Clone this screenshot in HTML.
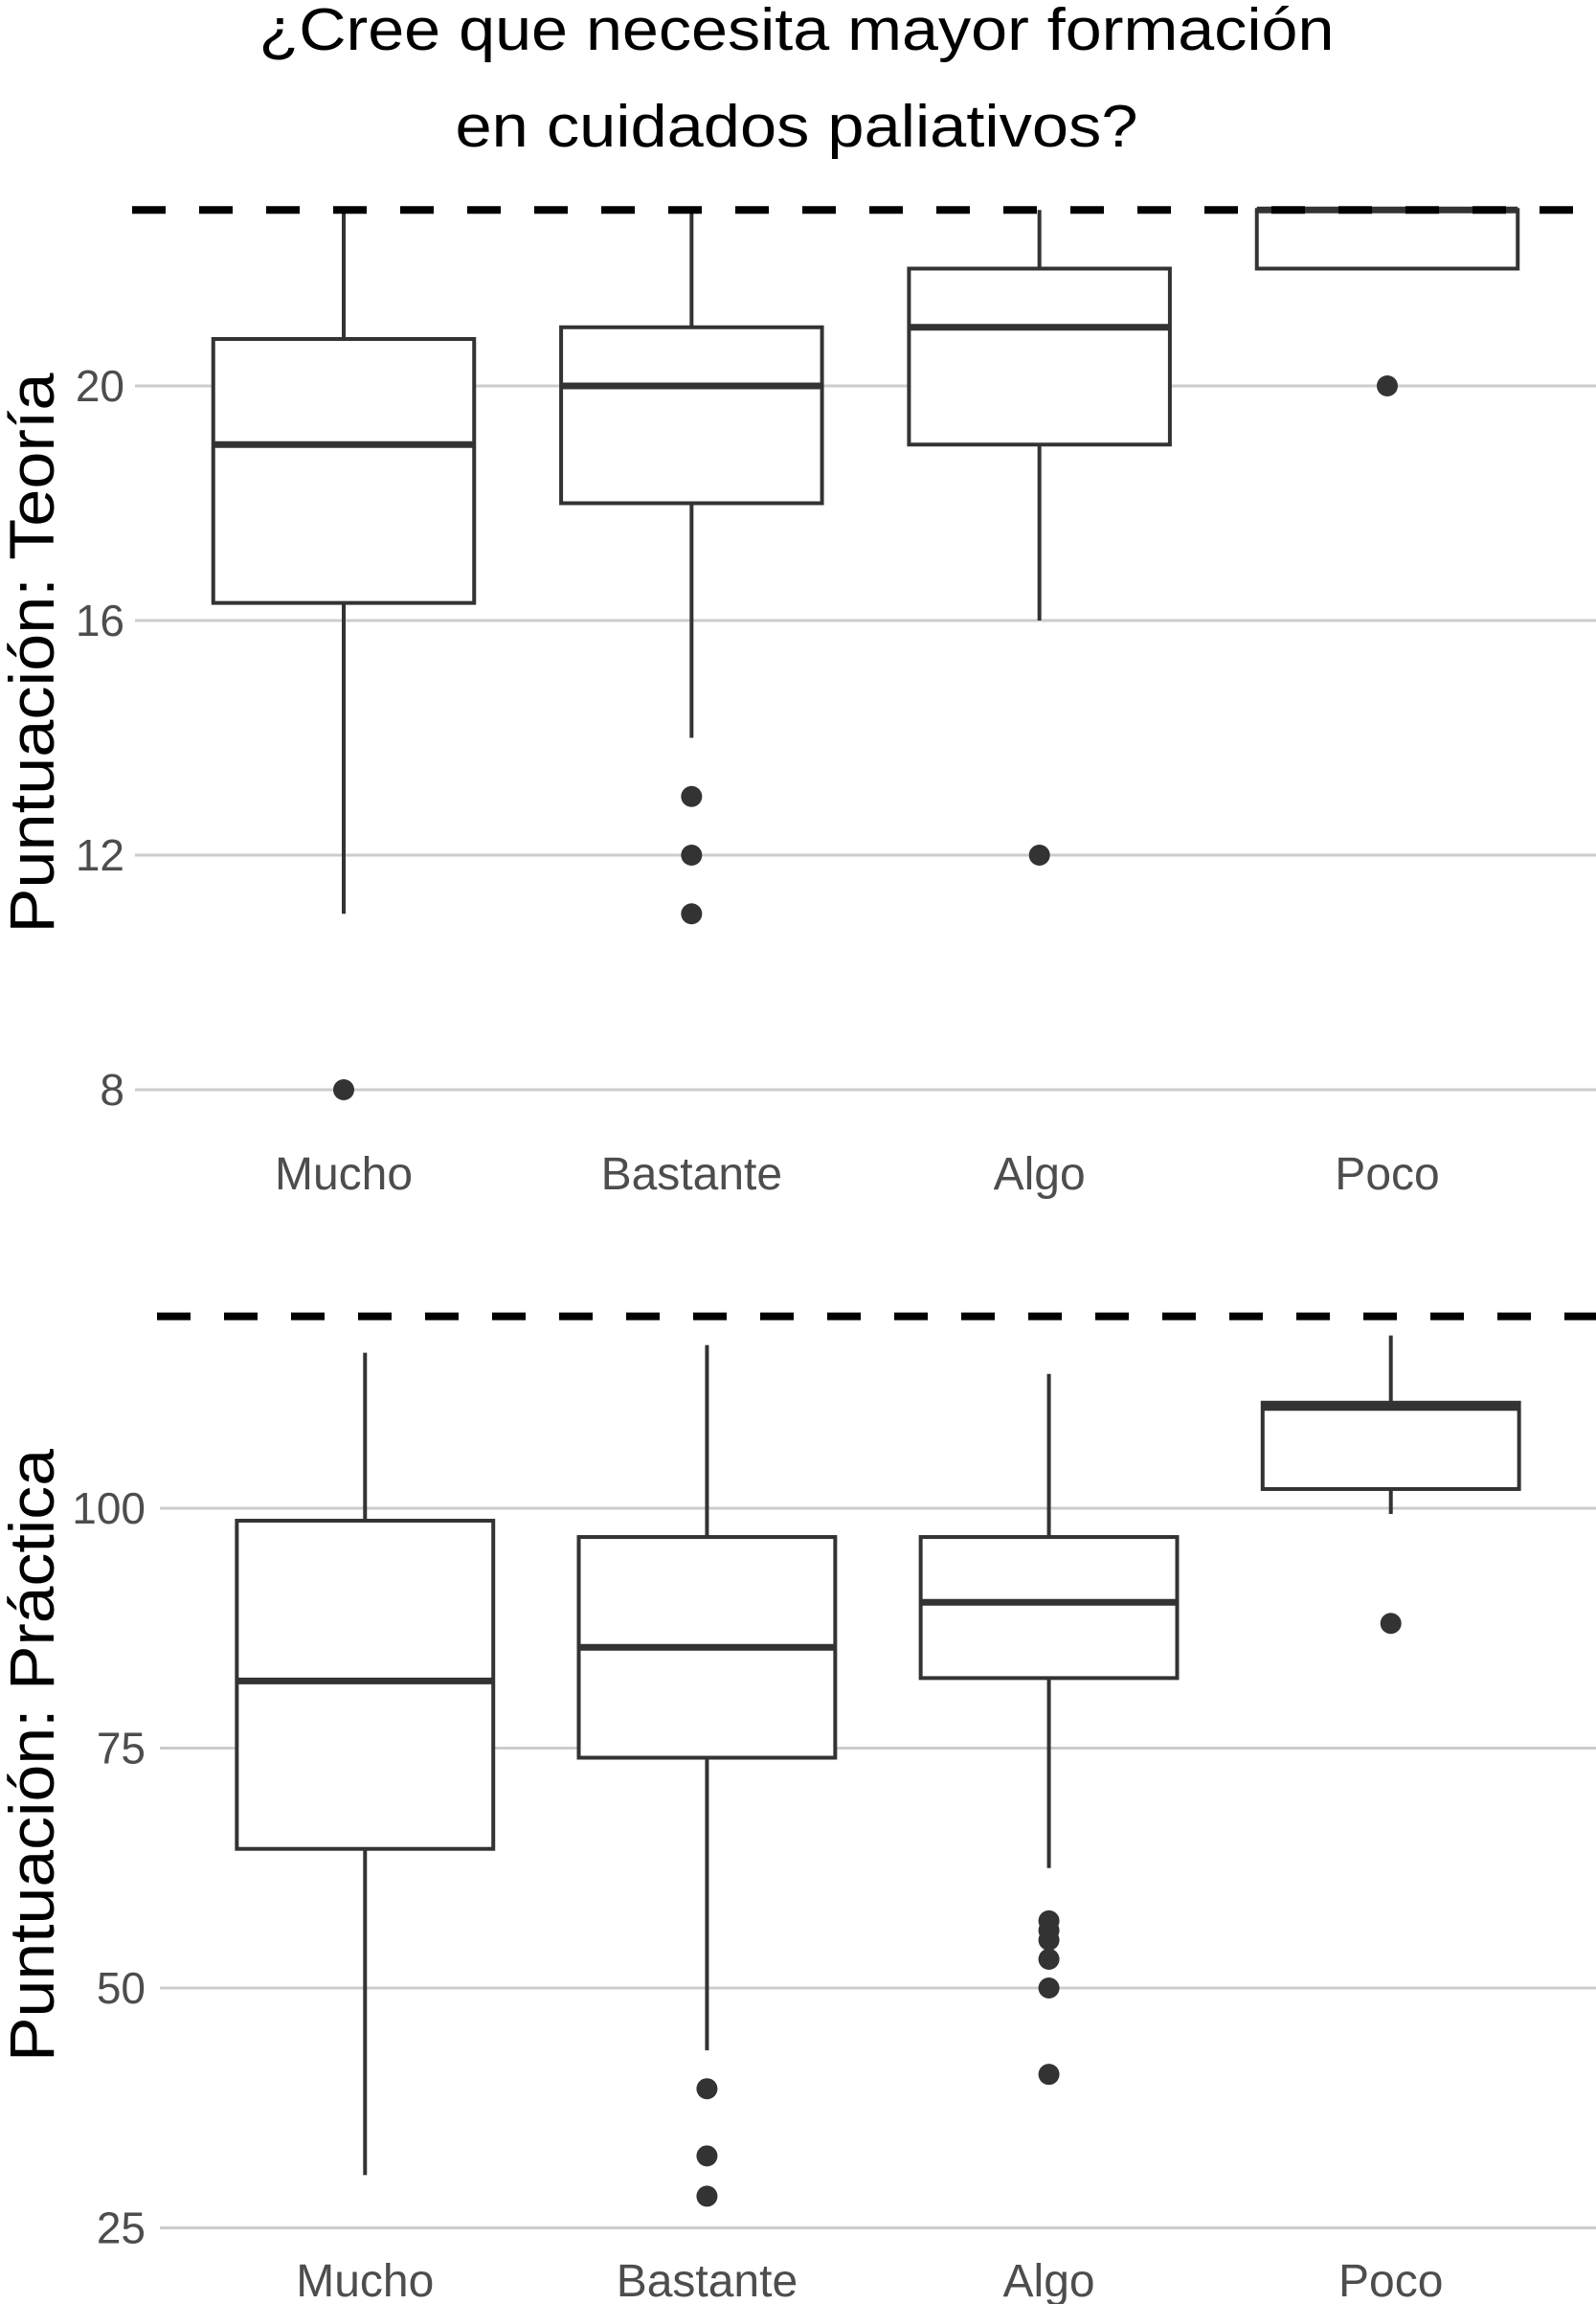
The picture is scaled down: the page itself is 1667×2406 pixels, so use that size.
<!DOCTYPE html>
<html><head><meta charset="utf-8"><style>
html,body{margin:0;padding:0;background:#fff;}
svg{display:block;}
text{font-family:"Liberation Sans",sans-serif;}
</style></head><body>
<svg id="chart" width="1667" height="2406" viewBox="0 0 1667 2406" xmlns="http://www.w3.org/2000/svg">
<text x="832" y="52" font-size="62" text-anchor="middle" textLength="1123" lengthAdjust="spacingAndGlyphs" fill="#000">¿Cree que necesita mayor formación</text>
<text x="832" y="153" font-size="62" text-anchor="middle" textLength="713" lengthAdjust="spacingAndGlyphs" fill="#000">en cuidados paliativos?</text>
<g id="p1"></g>
<g id="p2"></g>
</svg>
<script>
const categories = ["Mucho","Bastante","Algo","Poco"];
// Teoría: [lowerWhisker, Q1, median, Q3, upperWhisker]
const teoriaStats = [[11,16.3,19,20.8,23],[14,18,20,21,23],[16,19,21,22,23],[22,22,23,23,23]];
const teoriaOutliers = [[8],[13,12,11],[12],[20]];
const teoriaTicks = [8,12,16,20];
const teoriaRef = 23;
// Práctica
const practicaStats = [[30.5,64.5,82,98.7,116.2],[43.5,74,85.5,97,117],[62.5,82.3,90.2,97,114],[99.4,102,110.5,111,118]];
const practicaOutliers = [[],[39.5,32.5,28.3],[57,56,55,53,50,41],[88]];
const practicaTicks = [25,50,75,100];
const practicaRef = 120;

const NS="http://www.w3.org/2000/svg";
function mk(parent,tag,attrs){const e=document.createElementNS(NS,tag);for(const k in attrs)e.setAttribute(k,attrs[k]);parent.appendChild(e);return e;}

function panel(g,cfg){
  const y=v=>cfg.y0+(v-cfg.v0)*(cfg.y1-cfg.y0)/(cfg.v1-cfg.v0);
  const step=(1667-cfg.left)/4.2;
  const x=i=>cfg.left+(i+0.6)*step;
  const bw=0.75*step;
  cfg.ticks.forEach(t=>{
    const l=mk(g,'line',{x1:cfg.left,x2:1667,y1:y(t),y2:y(t),stroke:'#cccccc','stroke-width':3});
    
    
    const tx=mk(g,'text',{x:cfg.tickX,y:y(t)+16,'font-size':46,'text-anchor':'end',fill:'#4d4d4d'});
    tx.textContent=String(t);
    
    
  });
  categories.forEach((c,i)=>{
    const s=cfg.stats[i];const cx=x(i);
    const grp=mk(g,'g',{});
    
    
    mk(grp,'line',{x1:cx,x2:cx,y1:y(s[4]),y2:y(s[3]),stroke:'#333','stroke-width':4});
    mk(grp,'line',{x1:cx,x2:cx,y1:y(s[1]),y2:y(s[0]),stroke:'#333','stroke-width':4});
    mk(grp,'rect',{x:cx-bw/2,y:y(s[3]),width:bw,height:Math.max(0,y(s[1])-y(s[3])),fill:'#fff',stroke:'#333','stroke-width':4});
    mk(grp,'line',{x1:cx-bw/2,x2:cx+bw/2,y1:y(s[2]),y2:y(s[2]),stroke:'#333','stroke-width':7});
    cfg.out[i].forEach(o=>{
      const p=mk(grp,'circle',{cx:cx,cy:y(o),r:11,fill:'#333'});
      
      
    });
    const lt=mk(g,'text',{x:cx,y:cfg.labelY,'font-size':48,'text-anchor':'middle',fill:'#4d4d4d'});
    lt.textContent=c;
    
    
  });
  const d=mk(g,'line',{x1:cfg.left-3,x2:1667,y1:y(cfg.ref),y2:y(cfg.ref),stroke:'#000','stroke-width':8,'stroke-dasharray':'35 35'});
  
  
  const t=mk(g,'text',{x:0,y:0,'font-size':66,'text-anchor':'middle',fill:'#000',transform:'translate('+cfg.titleX+','+cfg.titleY+') rotate(-90)',textLength:cfg.titleLen,lengthAdjust:'spacingAndGlyphs'});
  t.textContent=cfg.title;
  
  
}
panel(document.getElementById('p1'),{left:141,v0:20,y0:403,v1:8,y1:1138,ticks:teoriaTicks,stats:teoriaStats,out:teoriaOutliers,ref:teoriaRef,tickX:130,labelY:1242,title:'Puntuación: Teoría',titleX:56,titleY:682,titleLen:585});
panel(document.getElementById('p2'),{left:167,v0:100,y0:1575,v1:50,y1:2076,ticks:practicaTicks,stats:practicaStats,out:practicaOutliers,ref:practicaRef,tickX:152,labelY:2398,title:'Puntuación: Práctica',titleX:56,titleY:1833,titleLen:640});
</script>
</body></html>
